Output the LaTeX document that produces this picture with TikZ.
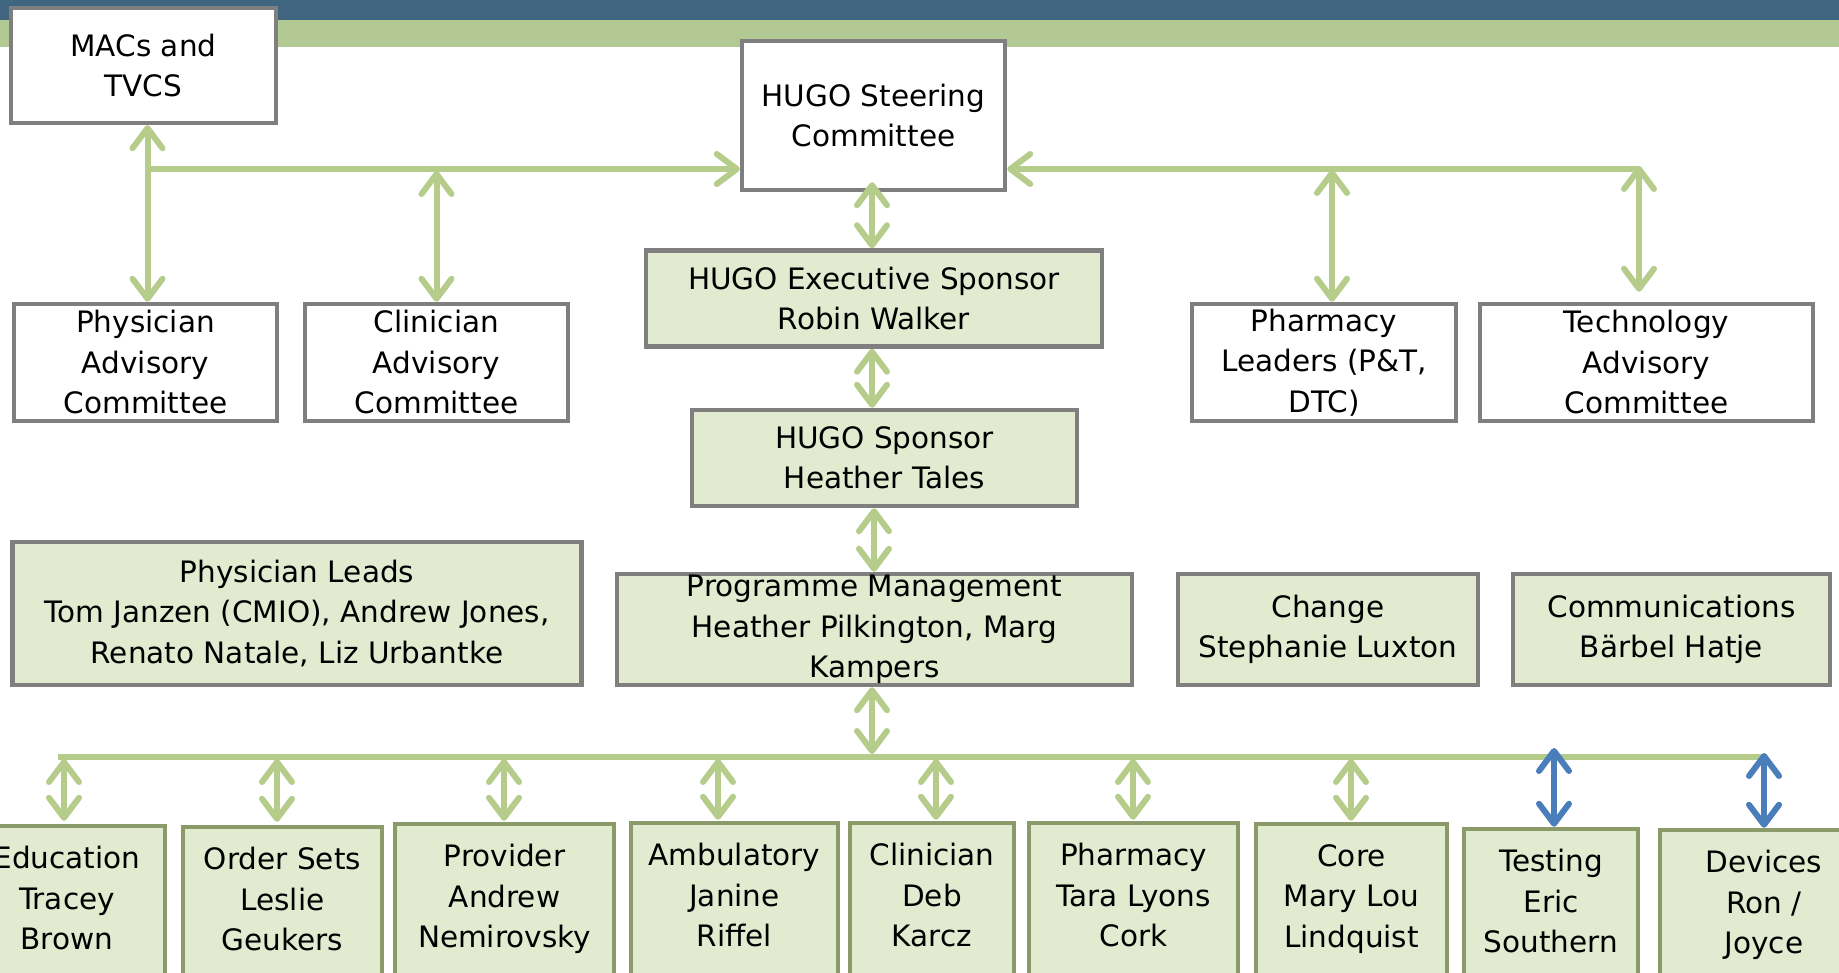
\documentclass[tikz,border=0pt]{standalone}
\usepackage{fontspec}
\setmainfont{DejaVu Sans}
\usetikzlibrary{arrows.meta}
\definecolor{bandblue}{HTML}{3F6580}
\definecolor{bandgreen}{HTML}{B3C993}
\definecolor{boxgray}{HTML}{7F7F7F}
\definecolor{boxfill}{HTML}{E2EAD0}
\definecolor{teamborder}{HTML}{8A9A68}
\definecolor{linegreen}{RGB}{181,204,139}
\definecolor{lineblue}{HTML}{4A7EBB}
\newcommand\tdeep{\rule[-10pt]{0pt}{0pt}}
\tikzset{
  box/.style={draw=boxgray, line width=4.5pt, align=center, inner sep=0pt,
    font=\fontsize{29.5}{40.5}\selectfont},
  whitebox/.style={box, fill=white},
  greenbox/.style={box, fill=boxfill},
  teambox/.style={box, draw=teamborder, fill=boxfill, minimum height=154},
  conn/.style={draw=linegreen, line width=6pt},
  tip/.tip={Straight Barb[length=20pt,width=30pt,round]},
  dbl/.style={conn, tip-tip},
  sgl/.style={conn, -tip},
  dblblue/.style={dbl, draw=lineblue},
}
\begin{document}
\begin{tikzpicture}[x=1pt,y=-1pt]
\useasboundingbox (0,0) rectangle (1839,973);
% top bands
\fill[bandblue] (0,0) rectangle (1839,20);
\fill[bandgreen] (0,20) rectangle (1839,47);

% upper boxes
\node[whitebox, minimum width=265, minimum height=115] (macs) at (143.5,65.5) {MACs and\\TVCS};
\node[whitebox, minimum width=263, minimum height=149] (steer) at (873.5,115.5) {HUGO Steering\\Committee};
\node[whitebox, minimum width=263, minimum height=117] (phys) at (145.5,362.5) {Physician\\Advisory\\Committee};
\node[whitebox, minimum width=263, minimum height=117] (clin) at (436.5,362.5) {Clinician\\Advisory\\Committee};
\node[greenbox, minimum width=456, minimum height=96] (exec) at (874,298.5) {HUGO Executive Sponsor\\Robin Walker};
\node[whitebox, minimum width=264, minimum height=117] (pharm) at (1324,362.5) {Pharmacy\\Leaders (P\&T,\\DTC)};
\node[whitebox, minimum width=333, minimum height=117] (tech) at (1646.5,362.5) {Technology\\Advisory\\Committee};
\node[greenbox, minimum width=385, minimum height=96] (spons) at (884.5,458) {HUGO Sponsor\\Heather Tales};
\node[greenbox, minimum width=569, minimum height=143] (leads) at (297,613.5) {Physician Leads\\Tom Janzen (CMIO), Andrew Jones,\\Renato Natale, Liz Urbantke};
\node[greenbox, minimum width=515, minimum height=111] (prog) at (874.5,629.5) {Programme Management\\Heather Pilkington, Marg\\Kampers};
\node[greenbox, minimum width=300, minimum height=111] (change) at (1328,629.5) {Change\\Stephanie Luxton};
\node[greenbox, minimum width=317, minimum height=111] (comm) at (1671.5,629.5) {Communications\\Bärbel Hatje};

% bottom team boxes
\node[teambox, minimum width=196] (edu) at (67,903) {Education\\Tracey\\Brown\tdeep};
\node[teambox, minimum width=199] (order) at (282.5,904) {Order Sets\\Leslie\\Geukers\tdeep};
\node[teambox, minimum width=219] (prov) at (504.5,901) {Provider\\Andrew\\Nemirovsky\tdeep};
\node[teambox, minimum width=207] (amb) at (734.5,900) {Ambulatory\\Janine\\Riffel\tdeep};
\node[teambox, minimum width=164] (clinb) at (932,900) {Clinician\\Deb\\Karcz\tdeep};
\node[teambox, minimum width=209] (pharmb) at (1133.5,900) {Pharmacy\\Tara Lyons\\Cork\tdeep};
\node[teambox, minimum width=191] (core) at (1351.5,901) {Core\\Mary Lou\\Lindquist\tdeep};
\node[teambox, minimum width=174] (test) at (1551,906) {Testing\\Eric\\Southern\tdeep};
\node[teambox, minimum width=208] (dev) at (1764,907) {Devices\\Ron /\\Joyce\tdeep};

% upper connectors
\coordinate (L1) at (147.5,169);
\coordinate (P1) at (1332,169);
\coordinate (R1) at (1639,169);
\draw[dbl] (L1 |- macs.south) -- (L1 |- phys.north);
\draw[sgl] (L1) -- (L1 -| steer.west);
\draw[dbl] (clin.north) -- ([yshift=-2]clin.north |- L1);
\draw[sgl] (R1) -- (R1 -| steer.east);
\draw[dbl] ([yshift=3]R1) -- ([yshift=10]R1 |- tech.north);
\draw[dbl] ([yshift=-1]P1) -- (P1 |- pharm.north);

% central spine
\draw[dbl] (exec.north -| 872,0) -- ([yshift=10]steer.south -| 872,0);
\draw[dbl] (exec.south -| 872,0) -- (spons.north -| 872,0);
\draw[dbl] (spons.south -| 874,0) -- (prog.north -| 874,0);

% bus
\coordinate (busL) at (58,757);
\coordinate (busR) at (1767,757);
\draw[conn] (busL) -- (busR);
\draw[dbl] (prog.south -| 872,0) -- (872,754);

\coordinate (b1) at (64,759);
\coordinate (b2) at (277,759);
\coordinate (b3) at (504,759);
\coordinate (b4) at (718,759);
\coordinate (b5) at (936,759);
\coordinate (b6) at (1133,759);
\coordinate (b7) at (1351,759);
\coordinate (b8) at (1554,748);
\coordinate (b9) at (1764,753);
\draw[dbl] (b1) -- ([yshift=3]b1 |- edu.north);
\draw[dbl] (b2) -- ([yshift=3]b2 |- order.north);
\draw[dbl] (b3) -- ([yshift=1]b3 |- prov.north);
\draw[dbl] (b4) -- ([yshift=1]b4 |- amb.north);
\draw[dbl] (b5) -- ([yshift=1]b5 |- clinb.north);
\draw[dbl] (b6) -- ([yshift=1]b6 |- pharmb.north);
\draw[dbl] (b7) -- ([yshift=1]b7 |- core.north);
\draw[dblblue] (b8) -- (b8 |- test.north);
\draw[dblblue] (b9) -- (b9 |- dev.north);
\end{tikzpicture}
\end{document}
